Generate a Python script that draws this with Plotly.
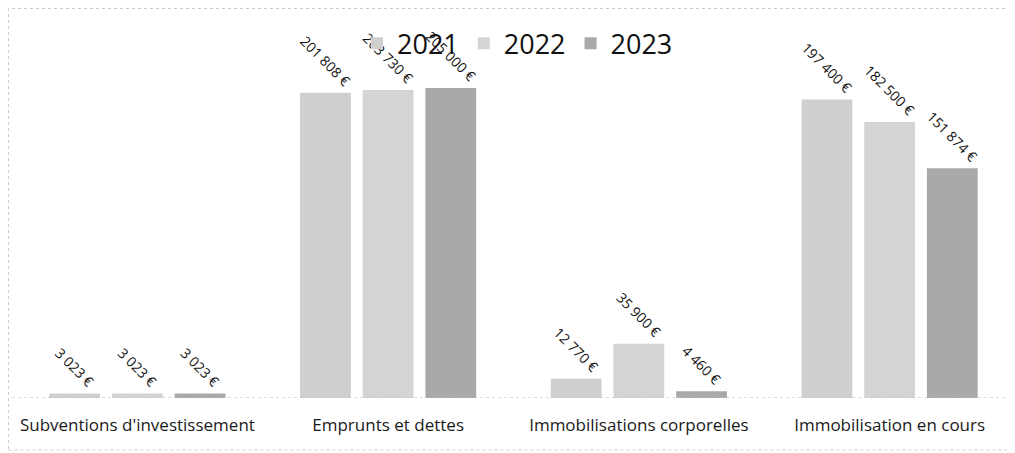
import plotly.graph_objects as go

# données
categories = ["Subventions d'investissement", "Emprunts et dettes",
              "Immobilisations corporelles", "Immobilisation en cours"]
years = ["2021", "2022", "2023"]
values_2021 = [3023, 201808, 12770, 197400]
values_2022 = [3023, 203730, 35900, 182500]
values_2023 = [3023, 205000, 4460, 151874]
colors = ["#cfcfcf", "#d4d4d4", "#a9a9a9"]


def euro(v):
    # format français : espace pour les milliers
    return f"{v:,}".replace(",", " ") + " €"


fig = go.Figure()
for year, vals, col in zip(years, [values_2021, values_2022, values_2023], colors):
    fig.add_trace(go.Bar(
        name=year, x=categories, y=vals,
        marker=dict(color=col, line=dict(width=0)),
        text=[euro(v) for v in vals],
        textposition="outside", textangle=45,
        textfont=dict(family="Open Sans", size=14, color="#111111"),
        constraintext="none", cliponaxis=False,
    ))

# ligne de base pointillée
fig.add_shape(type="line", xref="paper", yref="y", x0=0, x1=0.997, y0=0, y1=0,
              line=dict(color="#bdbdbd", width=1, dash="dot"))
# cadre pointillé du graphique
fig.add_shape(type="rect", xref="paper", yref="paper", x0=-0.0035, x1=0.997,
              y0=-0.1376, y1=1.0304, line=dict(color="#cccccc", width=1, dash="dot"))

fig.update_layout(
    width=1015, height=453,
    margin=dict(l=4, r=8, t=12, b=63),
    paper_bgcolor="white", plot_bgcolor="white",
    barmode="group", bargap=0.25, bargroupgap=0.19,
    showlegend=True,
    legend=dict(orientation="h", x=0.504, xanchor="center", y=0.937, yanchor="middle",
                font=dict(family="Open Sans", size=27, color="#111111"),
                bgcolor="rgba(0,0,0,0)", itemwidth=30),
    xaxis=dict(showgrid=False, showline=False, zeroline=False,
               ticklabelstandoff=15,
               tickfont=dict(family="Open Sans", size=17, color="#1a1a1a")),
    yaxis=dict(range=[0, 250000], visible=False),
)

fig.write_html("out.html")
